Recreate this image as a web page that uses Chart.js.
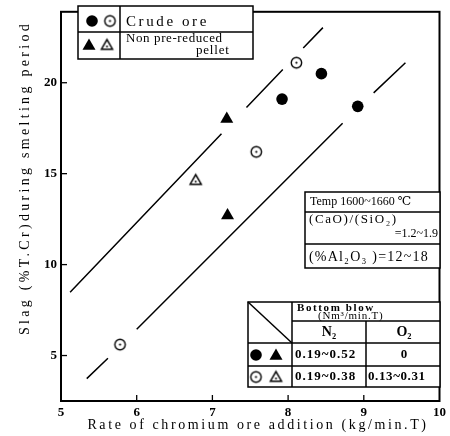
<!DOCTYPE html>
<html lang="en">
<head>
<meta charset="UTF-8">
<title>Slag T.Cr vs rate of chromium ore addition</title>
<script src="https://cdn.jsdelivr.net/npm/chart.js"></script>
<style>
  html, body { margin: 0; padding: 0; background: #fff; }
  #chart { display: block; }
</style>
</head>
<body>
<canvas id="chart" width="450" height="436"></canvas>
<script>
// points
const crudeFilledX = [7.92, 8.44, 8.92];
const crudeFilledY = [19.1, 20.5, 18.7];
const crudeOpenX = [5.78, 7.58, 8.11];
const crudeOpenY = [5.6, 16.2, 21.1];
const pelletFilledX = [7.19, 7.2];
const pelletFilledY = [18.0, 12.7];
const pelletOpenX = [6.78];
const pelletOpenY = [14.65];

// the two band lines, null = break in the line
const upperX = [5.12, 7.12, 7.3, 7.45, 7.93, 8.05, 8.20, 8.46];
const upperY = [8.48, 17.2, null, 18.64, 20.73, null, 21.91, 23.03];
const lowerX = [5.34, 5.62, 5.8, 6.0, 8.72, 8.9, 9.13, 9.55];
const lowerY = [3.73, 4.85, null, 6.45, 17.77, null, 19.44, 21.1];

const xTicks = [5, 6, 7, 8, 9, 10];
const yTicks = [5, 10, 15, 20];

const SERIF = '"Liberation Serif", "DejaVu Serif", serif';

function pts(xs, ys) {
    return xs.map((x, i) => ({ x: x, y: ys[i] }));
}

// open circle / triangle with a dot in the middle
function dotCircle(r) {
    const s = Math.ceil(r * 2 + 4);
    const c = document.createElement('canvas');
    c.width = c.height = s;
    const g = c.getContext('2d');
    g.strokeStyle = '#000';
    g.lineWidth = 1.4;
    g.beginPath(); g.arc(s / 2, s / 2, r, 0, Math.PI * 2); g.stroke();
    g.fillStyle = '#000';
    g.beginPath(); g.arc(s / 2, s / 2, 1.1, 0, Math.PI * 2); g.fill();
    return c;
}
function dotTriangle(r) {
    const s = Math.ceil(r * 2 + 4);
    const c = document.createElement('canvas');
    c.width = c.height = s;
    const g = c.getContext('2d');
    const cx = s / 2, cy = s / 2 + 1;
    g.strokeStyle = '#000';
    g.lineWidth = 1.5;
    g.beginPath();
    g.moveTo(cx, cy - r);
    g.lineTo(cx + r * 0.866, cy + r * 0.5);
    g.lineTo(cx - r * 0.866, cy + r * 0.5);
    g.closePath();
    g.stroke();
    g.fillStyle = '#000';
    g.beginPath(); g.arc(cx, cy + 0.5, 1, 0, Math.PI * 2); g.fill();
    return c;
}
const openCircleImg = dotCircle(5.2);
const openTriImg = dotTriangle(6.4);

function filledCircle(ctx, x, y) {
    ctx.beginPath(); ctx.arc(x, y, 5.8, 0, Math.PI * 2); ctx.fill();
}
function filledTri(ctx, x, y) {
    const r = 7.5;
    ctx.beginPath();
    ctx.moveTo(x, y - r);
    ctx.lineTo(x + r * 0.866, y + r * 0.5);
    ctx.lineTo(x - r * 0.866, y + r * 0.5);
    ctx.closePath(); ctx.fill();
}
function img(ctx, im, x, y) {
    ctx.drawImage(im, x - im.width / 2, y - im.height / 2);
}
function text(ctx, str, x, y, size, align, spacing, weight) {
    ctx.font = (weight || 'normal') + ' ' + size + 'px ' + SERIF;
    ctx.letterSpacing = (spacing || 0) + 'px';
    ctx.textAlign = align || 'left';
    ctx.textBaseline = 'middle';
    ctx.fillText(str, x, y);
    ctx.letterSpacing = '0px';
}
function box(ctx, x1, y1, x2, y2) {
    ctx.fillStyle = '#fff';
    ctx.fillRect(x1, y1, x2 - x1, y2 - y1);
    ctx.fillStyle = '#000';
    ctx.strokeRect(x1, y1, x2 - x1, y2 - y1);
}
function seg(ctx, x1, y1, x2, y2) {
    ctx.beginPath(); ctx.moveTo(x1, y1); ctx.lineTo(x2, y2); ctx.stroke();
}

const decor = {
    id: 'decor',
    afterDraw(chart) {
        const ctx = chart.ctx;
        const a = chart.chartArea;
        const xs = chart.scales.x, ys = chart.scales.y;
        ctx.save();
        ctx.strokeStyle = '#000';
        ctx.fillStyle = '#000';

        // frame
        ctx.lineWidth = 2;
        ctx.strokeRect(a.left, a.top, a.right - a.left, a.bottom - a.top);

        // inward tick marks
        ctx.lineWidth = 1.3;
        xTicks.slice(1, -1).forEach(v => {
            const px = xs.getPixelForValue(v);
            seg(ctx, px, a.bottom, px, a.bottom - 6);
        });
        yTicks.forEach(v => {
            const py = ys.getPixelForValue(v);
            seg(ctx, a.left, py, a.left + 6, py);
        });

        // axis titles
        text(ctx, 'Rate of chromium ore addition (kg/min.T)', 258, 425, 14, 'center', 2.6);
        ctx.save();
        ctx.translate(25, 178);
        ctx.rotate(-Math.PI / 2);
        text(ctx, 'Slag (%T.Cr)during smelting period', 0, 0, 14, 'center', 3.3);
        ctx.restore();

        // legend box
        ctx.lineWidth = 1.5;
        box(ctx, 78, 6, 253, 59);
        seg(ctx, 120, 6, 120, 59);
        seg(ctx, 78, 32, 253, 32);
        filledCircle(ctx, 92, 21);
        img(ctx, openCircleImg, 110, 21);
        filledTri(ctx, 89, 46);
        img(ctx, openTriImg, 107, 45);
        text(ctx, 'Crude ore', 126, 22, 15, 'left', 2.6);
        text(ctx, 'Non pre-reduced', 126, 39, 13, 'left', 0.6);
        text(ctx, 'pellet', 196, 51, 13, 'left', 0.8);

        // furnace conditions box
        box(ctx, 305, 192, 440, 268);
        seg(ctx, 305, 212, 440, 212);
        seg(ctx, 305, 244, 440, 244);
        text(ctx, 'Temp 1600~1660 \u2103', 310, 202, 12, 'left', 0);
        text(ctx, '(CaO)/(SiO\u2082)', 309, 220, 13, 'left', 1.6);
        text(ctx, '=1.2~1.9', 438, 234, 12, 'right', 0);
        text(ctx, '(%Al\u2082O\u2083 )=12~18', 309, 257, 14, 'left', 1.2);

        // bottom blow table
        box(ctx, 248, 302, 440, 387);
        seg(ctx, 292, 302, 292, 387);
        seg(ctx, 292, 321, 440, 321);
        seg(ctx, 248, 343, 440, 343);
        seg(ctx, 248, 366, 440, 366);
        seg(ctx, 366, 321, 366, 387);
        seg(ctx, 248, 302, 292, 343);
        text(ctx, 'Bottom blow', 297, 308, 11, 'left', 1.6, 'bold');
        text(ctx, '(Nm\u00b3/min.T)', 318, 316, 11, 'left', 0.8);
        text(ctx, 'N\u2082', 329, 332, 14, 'center', 0, 'bold');
        text(ctx, 'O\u2082', 404, 332, 14, 'center', 0, 'bold');
        filledCircle(ctx, 256, 355);
        filledTri(ctx, 276, 356);
        img(ctx, openCircleImg, 256, 377);
        img(ctx, openTriImg, 276, 377);
        text(ctx, '0.19~0.52', 295, 355, 13, 'left', 1, 'bold');
        text(ctx, '0', 404, 355, 13, 'center', 0, 'bold');
        text(ctx, '0.19~0.38', 295, 377, 13, 'left', 1, 'bold');
        text(ctx, '0.13~0.31', 368, 377, 13, 'left', 0.6, 'bold');

        ctx.restore();
    }
};

const lineStyle = {
    showLine: true,
    spanGaps: false,
    borderColor: '#000',
    borderWidth: 1.5,
    pointRadius: 0,
    fill: false
};

new Chart(document.getElementById('chart').getContext('2d'), {
    type: 'scatter',
    data: {
        datasets: [
            Object.assign({ label: 'upper band', data: pts(upperX, upperY) }, lineStyle),
            Object.assign({ label: 'lower band', data: pts(lowerX, lowerY) }, lineStyle),
            { label: 'Crude ore (filled)', data: pts(crudeFilledX, crudeFilledY),
              pointStyle: 'circle', pointRadius: 5.8, backgroundColor: '#000', borderWidth: 0 },
            { label: 'Crude ore (open)', data: pts(crudeOpenX, crudeOpenY),
              pointStyle: openCircleImg },
            { label: 'Pellet (filled)', data: pts(pelletFilledX, pelletFilledY),
              pointStyle: 'triangle', pointRadius: 7.5, backgroundColor: '#000', borderWidth: 0 },
            { label: 'Pellet (open)', data: pts(pelletOpenX, pelletOpenY),
              pointStyle: openTriImg }
        ]
    },
    options: {
        responsive: false,
        animation: false,
        layout: { padding: { top: 7, right: 10, left: 0, bottom: 0 } },
        plugins: { legend: { display: false }, tooltip: { enabled: false } },
        scales: {
            x: {
                type: 'linear', min: 5, max: 10,
                afterBuildTicks: s => { s.ticks = xTicks.map(v => ({ value: v })); },
                afterFit: s => { s.height = 35; },
                grid: { display: false, drawTicks: false },
                border: { display: false },
                ticks: { padding: 4, maxRotation: 0, color: '#000',
                         font: { family: SERIF, size: 13, weight: 'bold' } }
            },
            y: {
                type: 'linear', min: 2.5, max: 23.9,
                afterBuildTicks: s => { s.ticks = yTicks.map(v => ({ value: v })); },
                afterFit: s => { s.width = 61; },
                grid: { display: false, drawTicks: false },
                border: { display: false },
                ticks: { padding: 4, color: '#000',
                         font: { family: SERIF, size: 13, weight: 'bold' } }
            }
        }
    },
    plugins: [decor]
});
</script>
</body>
</html>
